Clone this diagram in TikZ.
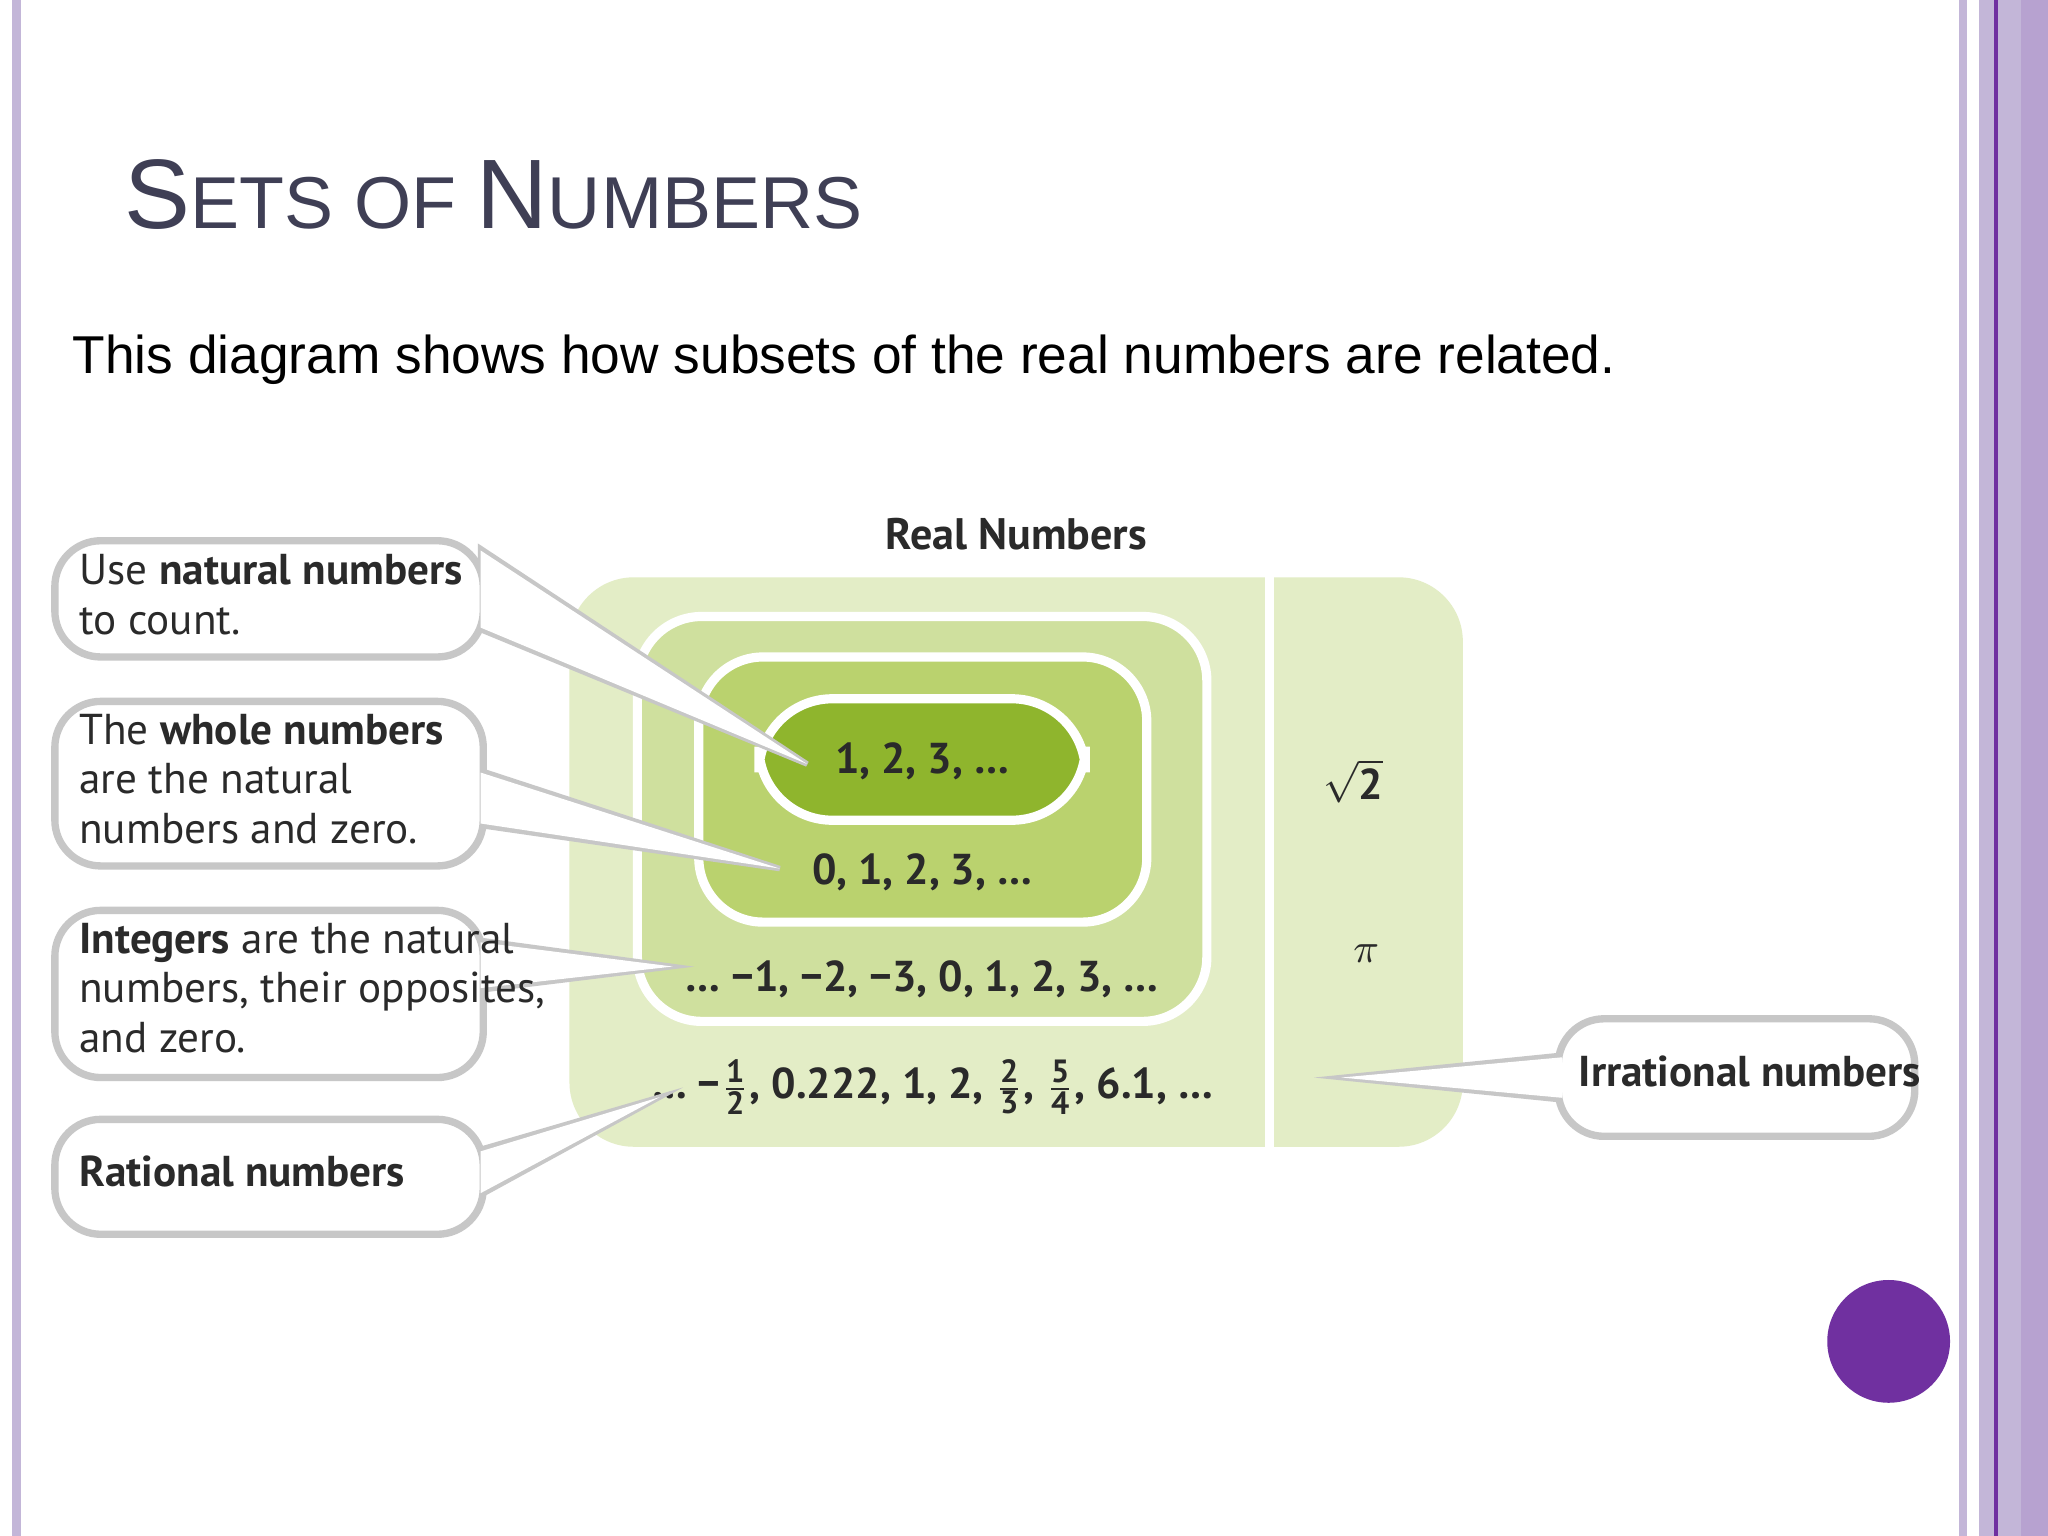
\documentclass[tikz,border=0pt]{standalone}
\usepackage{fontspec}
\setmainfont{Liberation Sans}
\newfontfamily\dfont{PT Sans}
\definecolor{lpur}{HTML}{C3B6D8}
\definecolor{dpur}{HTML}{7030A0}
\definecolor{gA}{HTML}{E3EDC6}
\definecolor{gB}{HTML}{CFE09E}
\definecolor{gC}{HTML}{BAD26E}
\definecolor{gD}{HTML}{8FB52D}
\definecolor{titc}{HTML}{3F3F55}
\definecolor{txt}{HTML}{2A2A2A}
\tikzset{
 callbox/.style={fill=white,draw=black!22,line width=1.6pt,rounded corners=10pt},
 ptr/.style={fill=white,draw=black!22,line width=1.2pt},
 ptrfill/.style={fill=white},
 ctext/.style={font=\dfont\fontsize{9.4}{10.8}\selectfont,text=txt,anchor=north west,align=left,inner sep=0},
 dnum/.style={font=\dfont\bfseries\fontsize{9.4}{10}\selectfont,text=txt,inner sep=0}
}
\newcommand{\callout}[7]{%
 \fill[ptr] (#3,#4) -- (#5,#6) -- (#3,#7) -- cycle;
 \draw[callbox] (42,#1) rectangle (370,#2);
 \fill[ptrfill] (368,#4+1.5) -- (#5,#6) -- (368,#7-1.5) -- cycle;}
\newcommand{\fr}[2]{$\frac{\hbox{\dfont\bfseries\fontsize{7}{7}\selectfont #1}}{\hbox{\dfont\bfseries\fontsize{7}{7}\selectfont #2}}$}
\begin{document}
\begin{tikzpicture}[x=0.01cm,y=-0.01cm]
\useasboundingbox (0,0) rectangle (1568,1176);
\fill[white] (0,0) rectangle (1568,1176);
% borders
\fill[lpur] (9,0) rectangle (16,1176);
\fill[lpur] (1500,0) rectangle (1506,1176);
\fill[lpur] (1515,0) rectangle (1568,1176);
\fill[lpur!85!dpur] (1547,0) rectangle (1568,1176);
\fill[dpur] (1527,0) rectangle (1530,1176);
% title
\node[anchor=base west,inner sep=0,text=titc,font=\fontsize{21.5}{22}\selectfont] (title) at (95,175) {S\fontsize{16}{16}\selectfont ETS OF \fontsize{21.5}{22}\selectfont N\fontsize{16}{16}\selectfont UMBERS};
\node[anchor=base west,inner sep=0,font=\fontsize{11.6}{12}\selectfont] (sub) at (55,286) {This diagram shows how subsets of the real numbers are related.};
% sets
\node[font=\dfont\bfseries\fontsize{9.6}{10}\selectfont,text=txt] (real) at (778,409) {Real Numbers};
\fill[gA,rounded corners=14pt] (436,442) rectangle (1120,878);
\draw[white,line width=2pt] (972,442) -- (972,878);
\fill[gB,rounded corners=14pt] (488,472) rectangle (924,782);
\draw[white,line width=2pt,rounded corners=14pt] (488,472) rectangle (924,782);
\fill[gC,rounded corners=14pt] (535,503) rectangle (878,706);
\draw[white,line width=2pt,rounded corners=14pt] (535,503) rectangle (878,706);
\fill[gD,rounded corners=16pt] (581,535) rectangle (831,628);
\draw[white,line width=2pt,rounded corners=16pt] (581,535) rectangle (831,628);
\node[dnum] (nat) at (706,583) {1, 2, 3, \ldots};
\node[dnum] (whole) at (706,668) {0, 1, 2, 3, \ldots};
\node[dnum] (int) at (706,750) {\ldots\ −1, −2, −3, 0, 1, 2, 3, \ldots};
\node[dnum] (rat) at (714,832) {\ldots\ −\fr{1}{2}, 0.222, 1, 2, \fr{2}{3}, \fr{5}{4}, 6.1, \ldots};
\node[dnum] (sqrt) at (1036,598) {$\sqrt{\hbox{\dfont\bfseries 2}}$};
\node[dnum] (pi) at (1046,730) {$\pi$};
% callouts
\callout{414}{503}{368}{420}{618}{585}{482}
\node[ctext] (c1) at (60,424) {Use \textbf{natural numbers}\\to count.};
\callout{537}{663}{368}{590}{597}{665}{632}
\node[ctext] (c2) at (60,546) {The \textbf{whole numbers}\\are the natural\\numbers and zero.};
\callout{697}{825}{368}{720}{515}{740}{758}
\node[ctext] (c3) at (60,706) {\textbf{Integers} are the natural\\numbers, their opposites,\\and zero.};
\callout{857}{945}{368}{880}{505}{840}{915}
\node[ctext] (c4) at (60,884) {\textbf{Rational numbers}};
\fill[ptr] (1195,808) -- (1027,825) -- (1195,842) -- cycle;
\draw[callbox] (1193,780) rectangle (1466,870);
\fill[ptrfill] (1196,809.5) -- (1027,825) -- (1196,840.5) -- cycle;
\node[ctext] (c5) at (1208,808) {\textbf{Irrational numbers}};
% dot
\fill[dpur] (1446,1027) circle (47);
\end{tikzpicture}
\end{document}
